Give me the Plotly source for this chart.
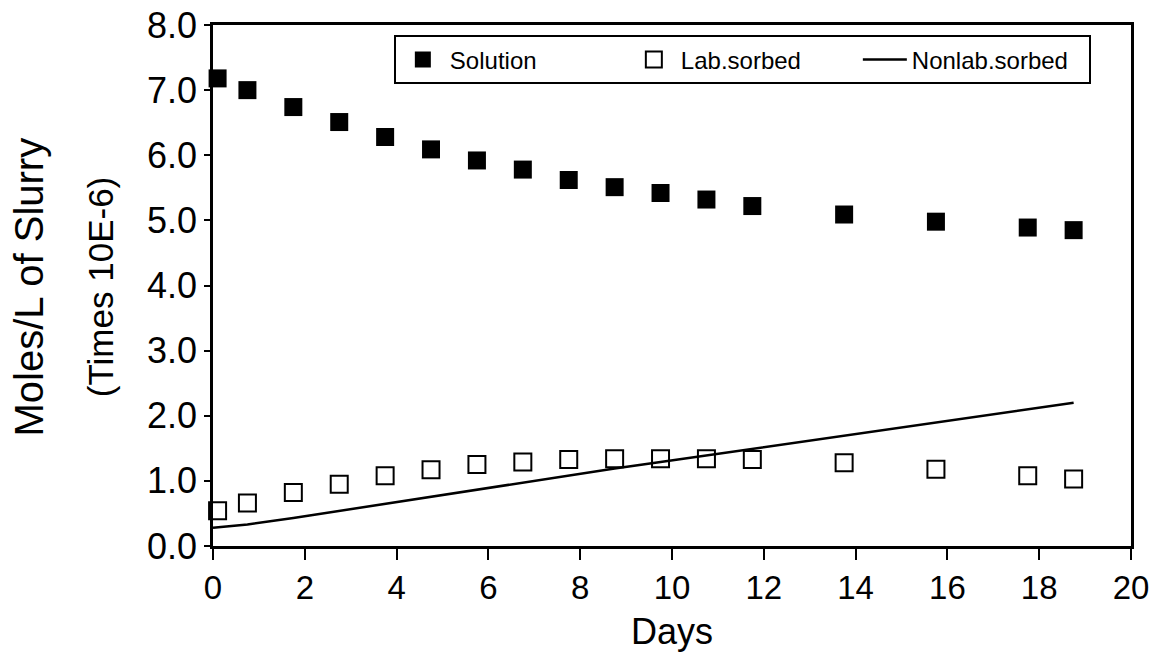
import plotly.graph_objects as go

days = [0.1, 0.75, 1.75, 2.75, 3.75, 4.75, 5.75, 6.75, 7.75, 8.75, 9.75,
        10.75, 11.75, 13.75, 15.75, 17.75, 18.75]
line_days = [0.0, 0.75, 1.75, 2.75, 3.75, 4.75, 5.75, 6.75, 7.75, 8.75, 9.75,
             10.75, 11.75, 13.75, 15.75, 17.75, 18.75]
solution = [7.18, 7.00, 6.74, 6.51, 6.28, 6.09, 5.92, 5.78, 5.62, 5.51, 5.42,
            5.32, 5.22, 5.09, 4.98, 4.89, 4.85]
lab_sorbed = [0.54, 0.66, 0.82, 0.95, 1.08, 1.17, 1.25, 1.29, 1.33, 1.34, 1.34,
              1.34, 1.33, 1.28, 1.18, 1.08, 1.03]
nonlab_sorbed = [0.28, 0.33, 0.43, 0.54, 0.65, 0.76, 0.87, 0.98, 1.09, 1.19, 1.29,
                 1.39, 1.49, 1.70, 1.90, 2.10, 2.20]

x_ticks = [0, 2, 4, 6, 8, 10, 12, 14, 16, 18, 20]
y_ticks = [0, 1, 2, 3, 4, 5, 6, 7, 8]
y_tick_text = ["0.0", "1.0", "2.0", "3.0", "4.0", "5.0", "6.0", "7.0", "8.0"]

FONT = "Liberation Sans, Arial, Helvetica, sans-serif"

fig = go.Figure()
fig.add_trace(go.Scatter(
    x=days, y=solution, mode="markers", name="Solution",
    marker=dict(symbol="square", size=18, color="black"),
    cliponaxis=False))
fig.add_trace(go.Scatter(
    x=days, y=lab_sorbed, mode="markers", name="Lab.sorbed",
    marker=dict(symbol="square-open", size=17, color="black",
                line=dict(width=2, color="black")),
    cliponaxis=False))
fig.add_trace(go.Scatter(
    x=line_days, y=nonlab_sorbed, mode="lines", name="Nonlab.sorbed",
    line=dict(color="black", width=2.5)))

fig.update_layout(
    width=1158, height=652,
    margin=dict(l=213, r=27, t=25, b=106),
    paper_bgcolor="white", plot_bgcolor="white",
    font=dict(family=FONT, color="black"),
    showlegend=True,
    legend=dict(
        orientation="h", x=0.197, y=0.98, xanchor="left", yanchor="top",
        bgcolor="white", bordercolor="black", borderwidth=2,
        font=dict(size=24, family=FONT, color="black"),
        itemsizing="trace", traceorder="normal", itemwidth=44,
        entrywidth=172, entrywidthmode="pixels",
    ),
    xaxis=dict(
        range=[0, 20], tickvals=x_ticks, ticktext=[str(v) for v in x_ticks],
        showgrid=False, zeroline=False, automargin=False,
        showline=True, linecolor="black", linewidth=2.5, mirror=True,
        ticks="outside", ticklen=11, tickwidth=2, tickcolor="black",
        tickfont=dict(size=33, family=FONT, color="black"),
        title=dict(text="Days", font=dict(size=36, family=FONT, color="black"),
                   standoff=20),
    ),
    yaxis=dict(
        range=[0, 8], tickvals=y_ticks, ticktext=y_tick_text,
        showgrid=False, zeroline=False, automargin=False,
        showline=True, linecolor="black", linewidth=2.5, mirror=True,
        ticks="outside", ticklen=6, tickwidth=2, tickcolor="black",
        tickfont=dict(size=36, family=FONT, color="black"),
    ),
)

fig.add_annotation(
    text="Moles/L of Slurry", textangle=-90, showarrow=False,
    xref="paper", yref="paper", x=-0.2, y=0.497, xanchor="center", yanchor="middle",
    font=dict(size=40, family=FONT, color="black"))
fig.add_annotation(
    text="(Times 10E-6)", textangle=-90, showarrow=False,
    xref="paper", yref="paper", x=-0.123, y=0.497, xanchor="center", yanchor="middle",
    font=dict(size=35, family=FONT, color="black"))

fig.write_html("out.html")
